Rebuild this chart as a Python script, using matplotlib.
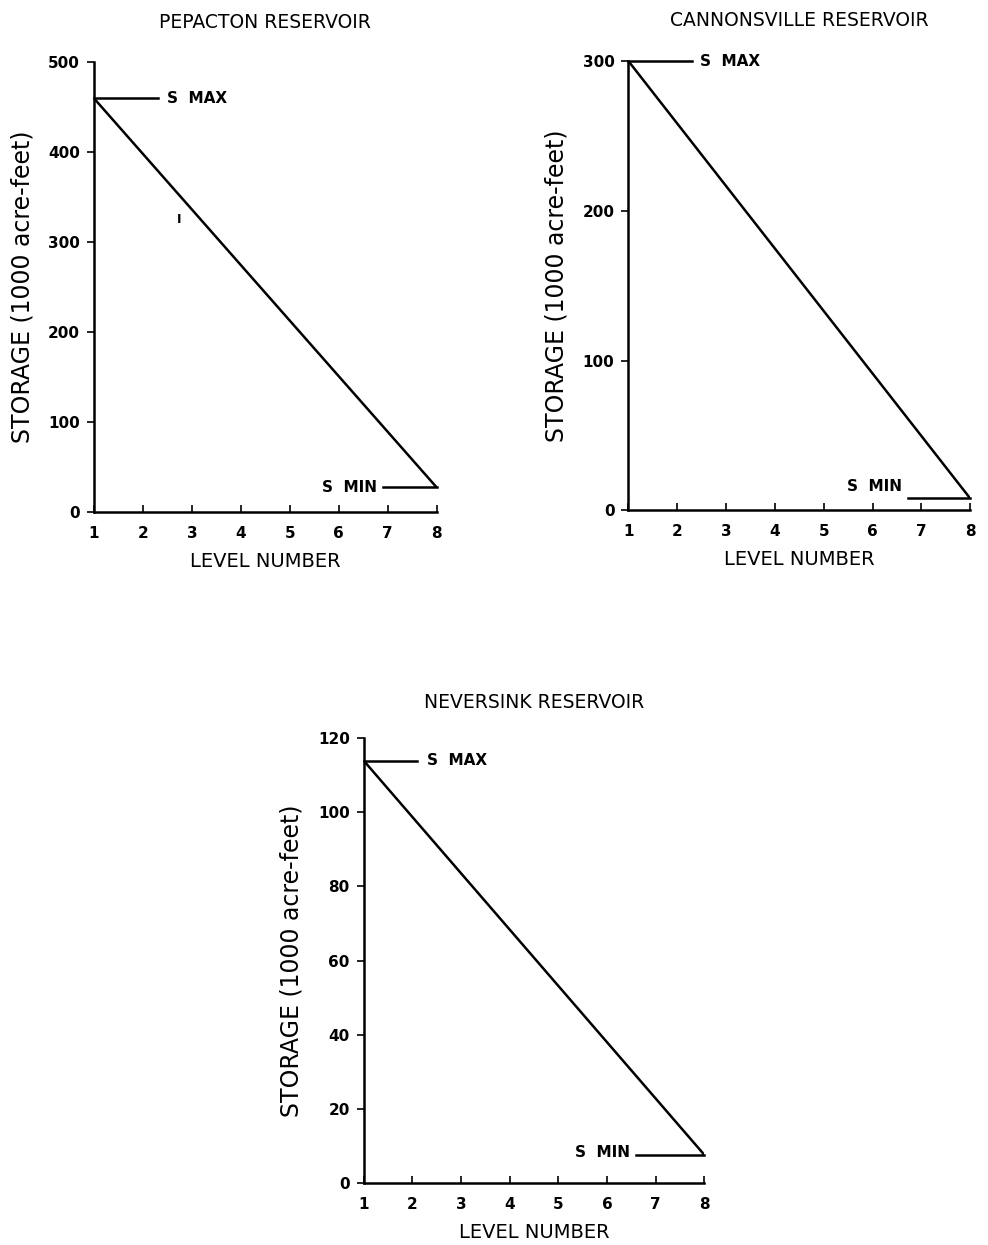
import matplotlib
matplotlib.use("Agg")
import matplotlib.pyplot as plt

# level range and storage (1000 acre-feet) at each end
levels = [1, 8]
pepacton = [460, 27]
cannonsville = [300, 8]
neversink = [114, 7.5]

pep_yticks = [0, 100, 200, 300, 400, 500]
can_yticks = [0, 100, 200, 300]
nev_yticks = [0, 20, 40, 60, 80, 100, 120]
xticks = [1, 2, 3, 4, 5, 6, 7, 8]

plt.rcParams['font.family'] = ['DejaVu Sans']

fig = plt.figure(figsize=(9.88, 12.45), dpi=100)


def draw_panel(rect, title, storage, yticks, smax_end, smax_text, smin_start,
               smin_dy, title_pad):
    ax = fig.add_axes(rect)
    ax.plot(levels, storage, color='black', lw=1.8, solid_capstyle='butt')
    # S MAX / S MIN markers
    ax.plot([levels[0], smax_end], [storage[0]] * 2, color='black', lw=1.8,
            clip_on=False)
    ax.text(smax_text, storage[0], 'S  MAX', va='center', ha='left',
            fontsize=11, fontweight='bold')
    ax.plot([smin_start, levels[1]], [storage[1]] * 2, color='black', lw=1.8,
            clip_on=False)
    ax.text(smin_start - 0.12, storage[1] + yticks[-1] * smin_dy, 'S  MIN',
            va='center', ha='right', fontsize=11, fontweight='bold')

    ax.set_xlim(1, 8)
    ax.set_ylim(0, yticks[-1])
    ax.set_xticks(xticks)
    ax.set_yticks(yticks)
    ax.tick_params(axis='x', direction='in', length=5, width=1.2, pad=10,
                   labelsize=11)
    ax.tick_params(axis='y', direction='out', length=5, width=1.2, pad=5,
                   labelsize=11)
    for lab in ax.get_xticklabels() + ax.get_yticklabels():
        lab.set_fontweight('bold')
    for s in ['top', 'right']:
        ax.spines[s].set_visible(False)
    for s in ['left', 'bottom']:
        ax.spines[s].set_linewidth(1.8)
    ax.set_title(title, fontsize=13.5, pad=title_pad)
    ax.set_xlabel('LEVEL NUMBER', fontsize=14, labelpad=8)
    ax.set_ylabel('STORAGE (1000 acre-feet)', fontsize=17, labelpad=10)
    return ax


ax1 = draw_panel([0.095, 0.589, 0.347, 0.361], 'PEPACTON RESERVOIR',
                 pepacton, pep_yticks, 2.3, 2.5, 6.9, 0.0, 25)
ax1.text(2.75, 325, 'I', fontsize=9, fontweight='bold', ha='center', va='center')

draw_panel([0.636, 0.590, 0.346, 0.361], 'CANNONSVILLE RESERVOIR',
           cannonsville, can_yticks, 2.3, 2.47, 6.73, 0.027, 25)

draw_panel([0.368, 0.050, 0.345, 0.357], 'NEVERSINK RESERVOIR',
           neversink, nev_yticks, 2.09, 2.3, 6.6, 0.005, 22)

fig.savefig('out.png', dpi=100)
